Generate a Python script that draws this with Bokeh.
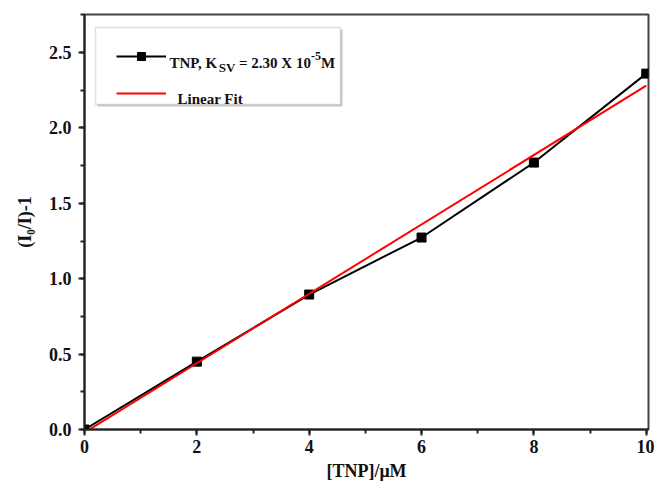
from bokeh.plotting import figure
from bokeh.models import (Range1d, SingleIntervalTicker, Legend, LegendItem,
                          BoxAnnotation, Label, PrintfTickFormatter)
from bokeh.embed import file_html
from bokeh.resources import INLINE

# ---- data ----
tnp_uM = [0, 2, 4, 6, 8, 10]
quench = [0.0, 0.45, 0.895, 1.273, 1.77, 2.36]
fit_x = [0, 10]
fit_y = [-0.02, 2.28]
x_label = "[TNP]/\u03bcM"
y_label = "(I\u2080/I)-1"

FONT = "Liberation Serif"

# ---- layout (canvas px) ----
W, H = 654, 483
FL, FT, FW, FH = 84, 14, 564, 415
XMAX, YMAX = 10.04, 2.752

def dx(px):
    return (px - FL) / FW * XMAX

def dy(py):
    return (FT + FH - py) / FH * YMAX

p = figure(width=W, height=H, output_backend="svg", toolbar_location=None,
           x_range=Range1d(0, XMAX), y_range=Range1d(0, YMAX),
           min_border_left=FL, min_border_top=FT,
           min_border_right=W - FL - FW, min_border_bottom=H - FT - FH)
p.xgrid.visible = False
p.ygrid.visible = False
p.outline_line_color = "#444444"
p.outline_line_width = 2
p.background_fill_color = "white"
p.border_fill_color = "white"

p.xaxis.ticker = SingleIntervalTicker(interval=2, num_minor_ticks=2)
p.yaxis.ticker = SingleIntervalTicker(interval=0.5, num_minor_ticks=2)
p.yaxis.formatter = PrintfTickFormatter(format="%.1f")
p.xaxis.formatter = PrintfTickFormatter(format="%d")

for ax in (p.xaxis[0], p.yaxis[0]):
    ax.axis_line_width = 2
    ax.axis_line_color = "#222222"
    ax.major_tick_line_width = 2
    ax.minor_tick_line_width = 2
    ax.major_tick_line_color = "#222222"
    ax.minor_tick_line_color = "#222222"
    ax.major_tick_out = 6
    ax.major_tick_in = 0
    ax.minor_tick_out = 4
    ax.minor_tick_in = 0
    ax.major_label_text_font = FONT
    ax.major_label_text_font_style = "bold"
    ax.major_label_text_font_size = "18px"
    ax.major_label_text_color = "#111111"
    ax.axis_label_text_font = FONT
    ax.axis_label_text_font_style = "bold"
    ax.axis_label_text_font_size = "18px"
    ax.axis_label_text_color = "#111111"

p.yaxis.major_label_standoff = 7
p.xaxis.major_label_standoff = 4
p.yaxis.axis_label = y_label
p.yaxis.axis_label_standoff = 11
p.xaxis.axis_label = x_label
p.xaxis.axis_label_standoff = 5

# ---- data marks ----
l1 = p.line(tnp_uM, quench, line_color="black", line_width=2)
s1 = p.scatter(tnp_uM, quench, marker="square", size=9, fill_color="black",
               line_color="black")
l2 = p.line(fit_x, fit_y, line_color="#ff0000", line_width=2)

# ---- legend frame ----
p.add_layout(BoxAnnotation(left=dx(97), right=dx(342), top=dy(29), bottom=dy(106),
                           fill_color="#c8c8c8", fill_alpha=1, line_alpha=0))
p.add_layout(BoxAnnotation(left=dx(95), right=dx(340), top=dy(27), bottom=dy(104),
                           fill_color="white", fill_alpha=1,
                           line_color="#9a9a9a", line_width=1.5))

legend = Legend(items=[LegendItem(label=" ", renderers=[l1, s1]),
                       LegendItem(label=" ", renderers=[l2])],
                location="top_left", margin=12, padding=20,
                glyph_width=50, glyph_height=20, label_height=20, spacing=17,
                border_line_alpha=0, background_fill_alpha=0,
                label_text_font_size="1px")
p.add_layout(legend)

# ---- legend texts ----
f, s, sup = 15, 13, 12
def lab(px, py, text, size):
    p.add_layout(Label(x=dx(px), y=dy(py), text=text, text_font=FONT,
                       text_font_style="bold", text_font_size=f"{size}px",
                       text_baseline="alphabetic", text_align="left",
                       text_color="#111111"))

x0 = 169
lab(x0, 62, "TNP, K", f)
x1 = x0 + 3.278 * f
lab(x1, 67, "SV", s)
x2 = x1 + 1.278 * s
lab(x2, 62, "\u00a0= 2.30 X 10", f)
x3 = x2 + 5.042 * f
lab(x3, 55, "-5", sup)
x4 = x3 + 0.833 * sup
lab(x4, 62, "M", f)
lab(177, 98, "Linear Fit", f)

open("out.html", "w").write(file_html(p, INLINE))
